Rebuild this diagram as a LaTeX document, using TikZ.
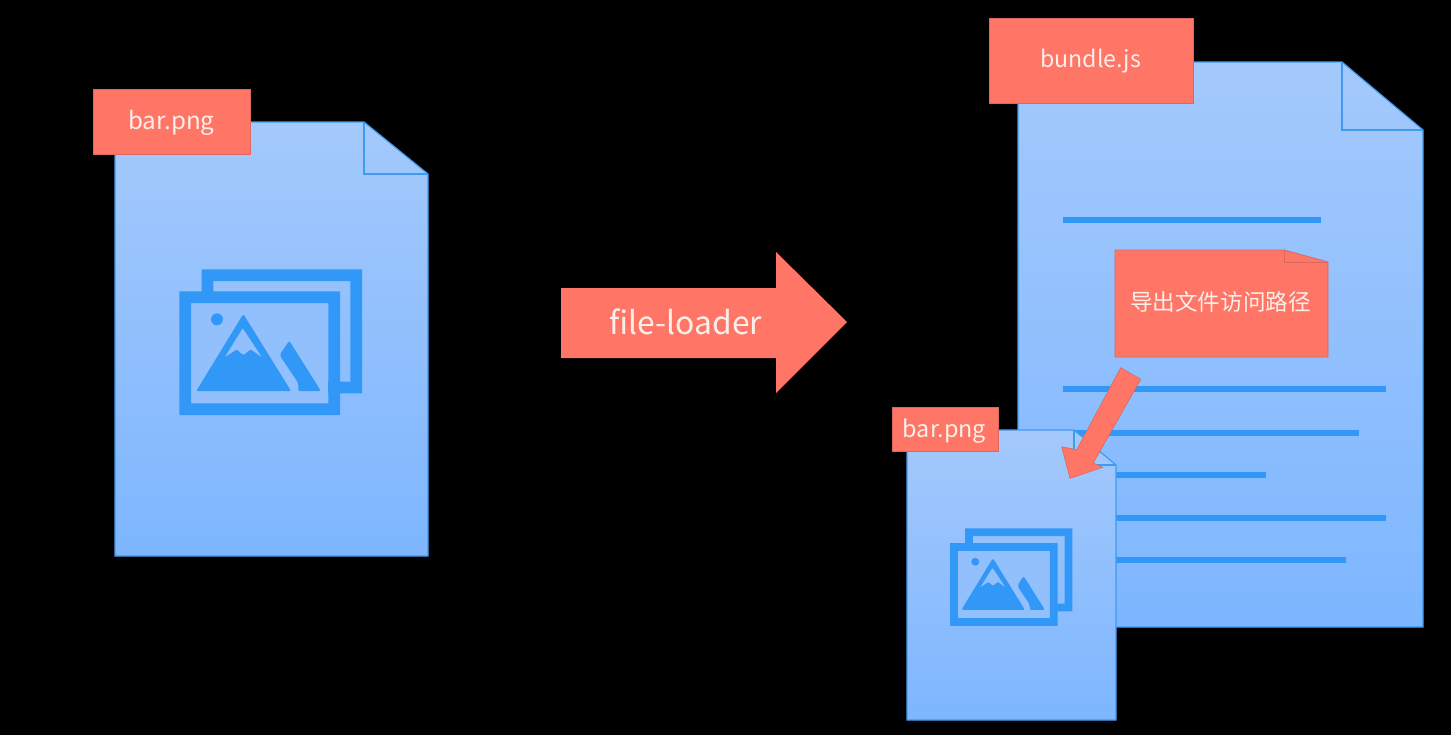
\documentclass[tikz,border=0pt]{standalone}
\usepackage{fontspec}
\setmainfont{Noto Sans CJK SC}
\definecolor{docedge}{HTML}{3F9BF0}
\definecolor{doctop}{HTML}{A4C9FC}
\definecolor{docbot}{HTML}{7DB6FF}
\definecolor{iconblue}{HTML}{3298F8}
\definecolor{tagred}{HTML}{FF7566}
\definecolor{tagedge}{HTML}{D9695F}
\definecolor{inktext}{HTML}{FBEFEA}
\tikzset{
  x=0.5pt,y=-0.5pt,
  docshape/.style={draw=docedge,line width=0.6pt,top color=doctop,bottom color=docbot,shading angle=0},
  foldline/.style={draw=docedge,line width=0.6pt},
  tagbox/.style={draw=tagedge,line width=0.4pt,fill=tagred},
  tagtext/.style={text=inktext,inner sep=0pt,anchor=center},
  textline/.style={draw=iconblue,line width=3pt},
}
\newcommand{\pictureicon}{%
  % back frame
  \fill[iconblue,even odd rule] (22.4,-22) rectangle (182.7,102) (34.1,-10.3) rectangle (171,90.3);
  % front frame
  \fill[doctop!50!docbot] (11.7,11.7) rectangle (149,112);
  \fill[iconblue,even odd rule] (0,0) rectangle (160.7,123.7) (11.7,11.7) rectangle (149,112);
  \fill[iconblue] (37.7,28) circle (6);
  % mountain
  \fill[iconblue,rounded corners=1] (64,22.7) -- (16.9,99.9) -- (111.9,99.9) -- cycle;
  \fill[doctop!50!docbot,rounded corners=0.5] (63.4,37) -- (45.7,65.7) -- (57.4,58) -- (64,63.7) -- (71.4,58) -- (82.4,65.7) -- cycle;
  % right peak
  \fill[iconblue,rounded corners=1] (110,49.4) -- (100.2,63.7) -- (119,91.7) -- (119,99.9) -- (141.7,99.9) -- cycle;
}
\begin{document}
\begin{tikzpicture}
\useasboundingbox (0,0) rectangle (1451,735);
\fill[black] (0,0) rectangle (1451,735);

% left document
\path[docshape] (115,122) -- (364,122) -- (428,174) -- (428,556) -- (115,556) -- cycle;
\path[foldline] (364,122) -- (364,174) -- (428,174);
\begin{scope}[shift={(179.3,291.3)}]
\pictureicon
\end{scope}
\node[tagbox,minimum width=78.5pt,minimum height=32.5pt,inner sep=0pt] (tagleft) at (172,121.5) {};
\node[tagtext,font=\fontsize{12.1pt}{14pt}\selectfont] (tagleftlabel) at (171.5,123) {bar.png};

% main arrow
\path[fill=tagred] (561,288) -- (776,288) -- (776,252) -- (847,322) -- (776,393) -- (776,358) -- (561,358) -- cycle;
\node[tagtext,font=\fontsize{15.9pt}{18pt}\selectfont] (loader) at (686,322) {file-loader};

% right document
\path[docshape] (1018,62) -- (1342,62) -- (1423,130) -- (1423,627) -- (1018,627) -- cycle;
\path[foldline] (1342,62) -- (1342,130) -- (1423,130);
\node[tagbox,minimum width=102pt,minimum height=42.5pt,inner sep=0pt] (tagbundle) at (1091,60.5) {};
\node[tagtext,font=\fontsize{11.6pt}{14pt}\selectfont] (tagbundlelabel) at (1090.5,61.5) {bundle.js};
\draw[textline] (1063,219.5) -- (1321,219.5);
\draw[textline] (1063,389) -- (1386,389);
\draw[textline] (1063,432.5) -- (1359,432.5);
\draw[textline] (1063,474.5) -- (1266,474.5);
\draw[textline] (1063,517.5) -- (1386,517.5);
\draw[textline] (1063,559.5) -- (1346,559.5);

% note
\path[tagbox] (1115,250) -- (1284,250) -- (1328,262) -- (1328,357) -- (1115,357) -- cycle;
\path[draw=tagedge,line width=0.4pt] (1284,250) -- (1284,262) -- (1328,262);
\node[tagtext,font=\fontsize{11.3pt}{13pt}\selectfont] (notelabel) at (1220.5,302) {导出文件访问路径};

% small document
\path[docshape] (907,430) -- (1074,430) -- (1116,465) -- (1116,720) -- (907,720) -- cycle;
\path[foldline] (1074,430) -- (1074,465) -- (1116,465);
\begin{scope}[shift={(950,543)},x=0.335pt,y=-0.335pt]
\pictureicon
\end{scope}
\node[tagbox,minimum width=52.7pt,minimum height=22.2pt,inner sep=0pt] (tagsmall) at (945.3,429.2) {};
\node[tagtext,font=\fontsize{11.7pt}{14pt}\selectfont] (tagsmalllabel) at (944.5,431) {bar.png};

% link arrow
\path[fill=tagred,draw=tagedge,line width=0.3pt] (1120.7,367.7) -- (1140.7,379.3) -- (1093.3,463) -- (1102.7,467.3) -- (1070,478.3) -- (1061.7,446.7) -- (1076.7,449.7) -- cycle;
\end{tikzpicture}
\end{document}
